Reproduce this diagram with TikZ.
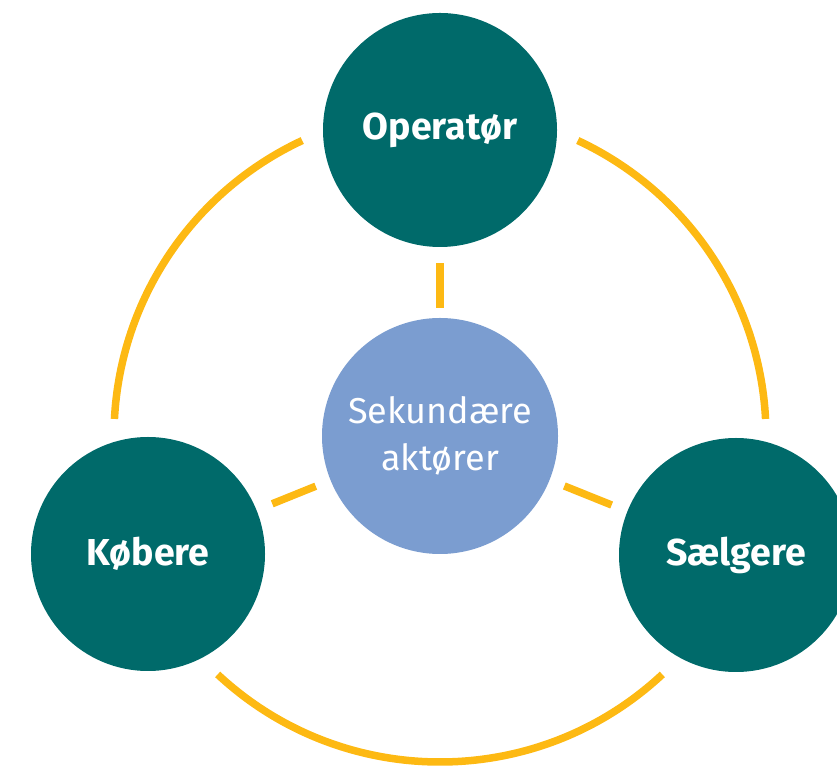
\documentclass[tikz,border=0pt]{standalone}
\usepackage{fontspec}
\setmainfont{Fira Sans}
\definecolor{teal}{RGB}{0,106,106}
\definecolor{soft}{RGB}{123,157,208}
\definecolor{gold}{RGB}{253,185,19}
\begin{document}
\begin{tikzpicture}[x=1pt,y=1pt,
  actor/.style={circle,fill=teal,minimum size=234pt,inner sep=0pt,outer sep=0pt,text=white,font=\fontsize{37.5}{44}\selectfont\bfseries},
  center/.style={circle,fill=soft,minimum size=236pt,inner sep=0pt,outer sep=0pt,text=white,align=center,font=\fontsize{36}{47}\selectfont},
  ring/.style={draw=gold,line width=7.5pt},
  spoke/.style={draw=gold,line width=7.5pt}]
\useasboundingbox (0,0) rectangle (837,765);
\coordinate (ring) at (440,329);
\node[actor] (op) at (440,635) {Operatør};
\node[actor] (kob) at (148,211) {Købere};
\node[actor] (sal) at (736,210) {Sælgere};
\node[center] (sek) at (440,329) {Sekundære\\aktører};
\draw[ring] ([shift={(115:326)}]ring) arc[start angle=115,end angle=177,radius=326];
\draw[ring] ([shift={(65:326)}]ring) arc[start angle=65,end angle=3,radius=326];
\draw[ring] ([shift={(227:326)}]ring) arc[start angle=227,end angle=313,radius=326];
\draw[spoke,shorten <=10pt,shorten >=16pt] (sek) -- (op);
\draw[spoke,shorten <=16pt,shorten >=17pt] (sek) -- (kob);
\draw[spoke,shorten <=16pt,shorten >=17pt] (sek) -- (sal);
\end{tikzpicture}
\end{document}
